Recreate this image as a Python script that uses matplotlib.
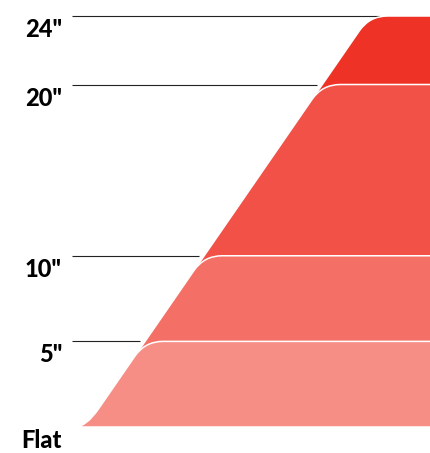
import matplotlib
matplotlib.use("Agg")
import matplotlib.pyplot as plt
from matplotlib.path import Path
from matplotlib.patches import PathPatch
import numpy as np

# Data
levels = [0, 5, 10, 20, 24]
labels = ["Flat", '5"', '10"', '20"', '24"']
band_colors = {5: "#F78E86", 10: "#F46F66", 20: "#F25147", 24: "#EF3226"}

W, H = 431, 453
fig = plt.figure(figsize=(W / 100, H / 100), dpi=100)
ax = fig.add_axes([0, 0, 1, 1])
s = 17.125          # px per inch of height
base_px = 427       # baseline row from top
ax.set_xlim(0, W)
ax.set_ylim(-(H - base_px) / s, base_px / s)
ax.axis("off")

x0 = 86.0     # foot of slope (px)
k = 0.69      # dx per dy (px)
rf_h = 11.0   # foot rounding, horizontal side
rf_s = 22.0   # foot rounding, slope side
rt = 18.0     # top rounding
R = W + 20
u = np.array([k, 1.0]) / np.hypot(k, 1.0)


def band_path(v):
    h = v * s
    B = np.array([x0, 0.0])
    C = np.array([x0 + k * h, h])
    pf1 = np.array([x0 - rf_h, 0.0])
    pf2 = B + rf_s * u
    pt1 = C - rt * u
    pt2 = np.array([C[0] + rt, h])
    verts = [pf1, B, pf2, pt1, C, pt2, (R, h), (R, 0), pf1]
    codes = [Path.MOVETO, Path.CURVE3, Path.CURVE3, Path.LINETO,
             Path.CURVE3, Path.CURVE3, Path.LINETO, Path.LINETO, Path.CLOSEPOLY]
    verts = [(p[0], p[1] / s) for p in verts]
    return Path(verts, codes)


for v in sorted(band_colors, reverse=True):
    ax.add_patch(PathPatch(band_path(v), facecolor=band_colors[v],
                           edgecolor="white", lw=1.1, zorder=3))

# guide lines
top = max(levels)
for v in levels[1:]:
    xe = x0 + k * v * s + (10 if v == top else -5)
    ax.plot([72, xe], [v, v], color="#222222", lw=0.8, zorder=2,
            solid_capstyle="butt")

for v, lab in zip(levels, labels):
    ax.annotate(lab, xy=(62, v), xytext=(0, -1.5), textcoords="offset points",
                ha="right", va="top", fontsize=17, fontweight="black",
                family=["Lato", "DejaVu Sans"], color="black", zorder=4)

fig.savefig("out.png", dpi=100)
